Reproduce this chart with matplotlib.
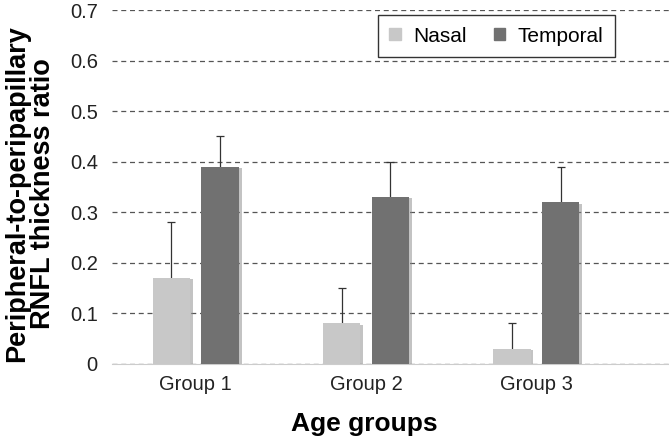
import numpy as np
import matplotlib.pyplot as plt
import matplotlib.patheffects as pe
from matplotlib.patches import Patch

plt.rcParams['font.family'] = ['Liberation Sans', 'DejaVu Sans']

groups = ["Group 1", "Group 2", "Group 3"]
nasal = [0.17, 0.08, 0.03]
nasal_err = [0.11, 0.07, 0.05]
temporal = [0.39, 0.33, 0.32]
temporal_err = [0.06, 0.07, 0.07]

nasal_color = '#c8c8c8'
temporal_color = '#717171'

fig = plt.figure(figsize=(6.69, 4.41), dpi=100)
ax = fig.add_axes([0.167, 0.175, 0.833, 0.802])

x = np.arange(len(groups))
w = 0.22
off = 0.143
shadow = [pe.SimplePatchShadow(offset=(2, -1), shadow_rgbFace='#888888', alpha=0.5), pe.Normal()]

ax.bar(x - off, nasal, w, color=nasal_color, zorder=3, path_effects=shadow)
ax.bar(x + off, temporal, w, color=temporal_color, zorder=3, path_effects=shadow)
# error bars sit behind the bars, so only the upper half shows
ax.errorbar(x - off, nasal, yerr=nasal_err, fmt='none',
            ecolor='#333333', elinewidth=0.9, capsize=3, capthick=0.9, zorder=2)
ax.errorbar(x + off, temporal, yerr=temporal_err, fmt='none',
            ecolor='#333333', elinewidth=0.9, capsize=3, capthick=0.9, zorder=2)

ax.set_xlim(-0.494, 2.78)
ax.set_ylim(0, 0.7)
ax.set_yticks(np.arange(0, 0.71, 0.1))
ax.set_yticklabels(['0'] + [f'{v:.1f}' for v in np.arange(0.1, 0.71, 0.1)])
ax.set_xticks(x)
ax.set_xticklabels(groups)
ax.tick_params(axis='both', length=0, labelsize=14.5, colors='#222222')
ax.tick_params(axis='y', pad=10)
ax.tick_params(axis='x', pad=8)

ax.yaxis.grid(True, linestyle=(0, (4, 3)), color='#555555', linewidth=0.9, zorder=0)
ax.set_axisbelow(True)
for s in ['top', 'right', 'left']:
    ax.spines[s].set_visible(False)
ax.spines['bottom'].set_color('#cccccc')

ax.set_xlabel('Age groups', fontsize=19, fontweight='bold')
ax.xaxis.set_label_coords(0.454, -0.135)
ax.set_ylabel('Peripheral-to-peripapillary\nRNFL thickness ratio', fontsize=19.5,
              fontweight='bold', linespacing=1.0)
ax.yaxis.set_label_coords(-0.1, 0.48)

handles = [Patch(color=nasal_color, label='Nasal'),
           Patch(color=temporal_color, label='Temporal')]
leg = ax.legend(handles=handles, loc='upper right', bbox_to_anchor=(0.903, 0.986),
                borderaxespad=0, ncol=2, fontsize=15, frameon=True, fancybox=False,
                handlelength=0.55, handleheight=0.55, columnspacing=1.3,
                handletextpad=0.6, borderpad=0.55)
leg.get_frame().set_edgecolor('black')
leg.get_frame().set_linewidth(1.0)

fig.savefig('out.png', dpi=100)
